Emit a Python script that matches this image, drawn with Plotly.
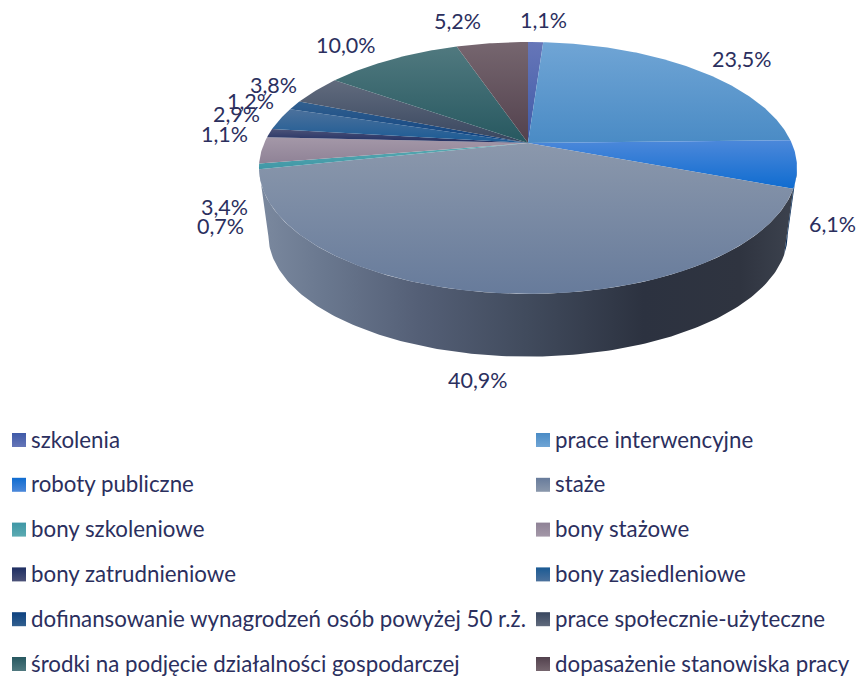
import numpy as np
import plotly.graph_objects as go

# --- data ---
categories = ["szkolenia", "prace interwencyjne", "roboty publiczne", "staże",
              "bony szkoleniowe", "bony stażowe", "bony zatrudnieniowe", "bony zasiedleniowe",
              "dofinansowanie wynagrodzeń osób powyżej 50 r.ż.", "prace społecznie-użyteczne",
              "środki na podjęcie działalności gospodarczej", "dopasażenie stanowiska pracy"]
values = [1.1, 23.5, 6.1, 40.9, 0.7, 3.4, 1.1, 2.9, 1.2, 3.8, 10.0, 5.2]

# --- styles ---
top_light = ["#6676b8", "#70a5d5", "#4c88da", "#8b98ac", "#5cabb2", "#a498a8",
             "#4c5278", "#4c719c", "#32608f", "#616b7d", "#50797f", "#76666f"]
top_dark = ["#3f5aa8", "#4a8bc5", "#0f6cd0", "#677b9b", "#3f97a6", "#8f8296",
            "#1e2e62", "#1a5a94", "#0d4180", "#38465f", "#275860", "#52414d"]
wall_scales = {3: [[0, "#7b899f"], [0.12, "#6a788f"], [0.3, "#545f76"], [0.5, "#414b5d"],
                   [0.72, "#2c3240"], [0.9, "#2f3440"], [1, "#3c424e"]],
               2: [[0, "#0b2a52"], [1, "#123a68"]]}
ink = "#2b2f5e"
label_font = "Lato"
label_size = 21.5
legend_size = 22.3
# pixel centres of the percent labels (same order as values)
label_xy = [(543, 20), (742, 59), (832, 224), (478, 380), (220, 226), (224, 207),
            (224, 134), (236, 114), (250, 101), (273, 85), (346, 45), (457, 21)]

# --- pie projection (perspective view of a disc, page pixels) ---
CX, CY = 528, 143
A, B, K = 263.7, 121.0, 0.198
SHRINK, BOTTOM_CY = 0.965, 211.0


def outline(theta, bottom=False):
    u, v = np.sin(theta), np.cos(theta)
    w = 1 + K * v
    if bottom:
        return CX + SHRINK * A * u / w, BOTTOM_CY - SHRINK * B * v / w
    return CX + A * u / w, CY - B * v / w


fig = go.Figure()
total = sum(values)
edges = np.cumsum([0] + values) / total * 2 * np.pi
sil_a, sil_b = np.pi - np.arccos(K) + 0, np.pi + np.arccos(K)  # visible wall range

# walls
for i in wall_scales:
    a = max(edges[i], sil_a)
    b = min(edges[i + 1], sil_b)
    t = np.linspace(a, b, 160)
    xt, yt = outline(t)
    xb, yb = outline(t[::-1], bottom=True)
    fig.add_trace(go.Scatter(x=np.r_[xt, xb], y=np.r_[yt, yb], mode="lines", fill="toself",
                             line=dict(width=0), hoverinfo="skip", showlegend=False,
                             fillgradient=dict(type="horizontal", colorscale=wall_scales[i])))

# top face
for i, name in enumerate(categories):
    t = np.linspace(edges[i], edges[i + 1], max(int(values[i] * 6), 6))
    xt, yt = outline(t)
    fig.add_trace(go.Scatter(x=np.r_[CX, xt, CX], y=np.r_[CY, yt, CY], mode="lines", fill="toself",
                             line=dict(width=0), name=name, hoverinfo="name", showlegend=False,
                             fillgradient=dict(type="vertical",
                                               colorscale=[[0, top_dark[i]], [1, top_light[i]]])))

# legend grid
col_x = [19, 543]
text_x = [29, 553]
row_y = [440 + 44.8 * r for r in range(6)]
lx, ly = [], []
for i, name in enumerate(categories):
    c, r = i % 2, i // 2
    lx.append(col_x[c])
    ly.append(row_y[r])
    fig.add_annotation(x=text_x[c], y=row_y[r] - 1, text=name, showarrow=False, xanchor="left",
                       yanchor="middle", xshift=0,
                       font=dict(family=label_font, size=legend_size, color=ink))
fig.add_trace(go.Scatter(x=lx, y=ly, mode="markers", hoverinfo="skip", showlegend=False,
                         marker=dict(symbol="square", size=14, color=top_dark,
                                     gradient=dict(type="vertical", color=top_light),
                                     line=dict(width=0))))

# percent labels
for val, (x, y) in zip(values, label_xy):
    fig.add_annotation(x=x, y=y, text=f"{val:.1f}%".replace(".", ","), showarrow=False,
                       xanchor="center", yanchor="middle",
                       font=dict(family=label_font, size=label_size, color=ink))

fig.update_layout(width=857, height=677, margin=dict(l=0, r=0, t=0, b=0),
                  paper_bgcolor="white", plot_bgcolor="white", showlegend=False,
                  xaxis=dict(range=[0, 857], visible=False, fixedrange=True),
                  yaxis=dict(range=[677, 0], visible=False, fixedrange=True))
fig.write_html("out.html", post_script="document.body.style.margin='0';",
               config=dict(displayModeBar=False))
